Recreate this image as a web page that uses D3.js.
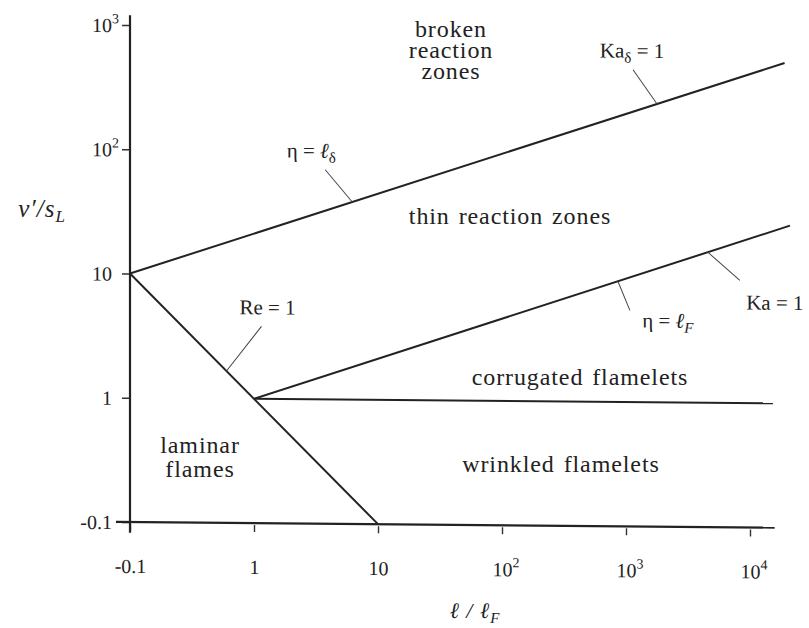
<!DOCTYPE html>
<html>
<head>
<meta charset="utf-8">
<script src="https://cdn.jsdelivr.net/npm/d3@7"></script>
<style>
  body { margin: 0; background: #fff; }
  svg { display: block; }
</style>
</head>
<body>
<svg id="chart" width="809" height="628"></svg>
<script>
// tick values and what is printed at them: [base, exponent]
const xTicks = [0.1, 1, 10, 100, 1000, 10000];
const xTickLabels = [["-0.1", ""], ["1", ""], ["10", ""], ["10", "2"], ["10", "3"], ["10", "4"]];
const yTicks = [0.1, 1, 10, 100, 1000];
const yTickLabels = [["-0.1", ""], ["1", ""], ["10", ""], ["10", "2"], ["10", "3"]];

// regime boundaries as [l/lF, v'/sL] end points
const kaDeltaLine = [[0.1, 10], [19000, 550]];
const kaLine = [[1, 1], [21000, 27]];
const reLine = [[0.1, 10], [10, 0.1]];
const flameletLine = [[1, 1], [15300, 1]];

// how far the two axis lines run
const xAxisExtent = [0.077, 15800];
const yAxisExtent = [0.082, 1200];

// boundary names and the l/lF where their pointer meets the line
const boundaryNames = ["etaDelta", "kaDelta", "re", "etaF", "ka"];
const boundaryLines = [kaDeltaLine, kaDeltaLine, reLine, kaLine, kaLine];
const boundaryAt = [6.2, 1780, 0.6, 860, 4570];

// regime names
const regionNames = [
  ["broken", "reaction", "zones"],
  ["thin reaction zones"],
  ["corrugated flamelets"],
  ["wrinkled flamelets"],
  ["laminar", "flames"]
];

// ---- layout ----
const width = 809, height = 628;
const ox = 130;          // pixel x of the l/lF = 0.1 axis
const skew = 0.5;        // the printed figure is slightly sheared
const serif = "'Liberation Serif', 'Times New Roman', 'DejaVu Serif', serif";

const x = d3.scaleLog().domain([0.1, 1e4]).range([0, 620]);
const y = d3.scaleLog().domain([0.1, 1e3]).range([522, 25]);

// pointer (dx, dy) and label (dx, baseline dy) offsets from the anchor
const pointerOffsets = {
  etaDelta: {lx: -27, ly: -32, tx: -41, ty: -44},
  kaDelta:  {lx: -24, ly: -34, tx: -25, ty: -46},
  re:       {lx: 35,  ly: -45, tx: 41,  ty: -57},
  etaF:     {lx: 12,  ly: 29,  tx: 50,  ty: 46},
  ka:       {lx: 32,  ly: 28,  tx: 67,  ty: 57}
};
const regionPos = [
  {x: 451, y: 37, dy: 21},
  {x: 510, y: 224},
  {x: 580, y: 385},
  {x: 561, y: 472},
  {x: 200, y: 453, dy: 24}
];

const svg = d3.select("#chart")
  .attr("font-family", serif)
  .style("font-family", serif);
svg.append("rect").attr("width", width).attr("height", height).attr("fill", "#fff");

const plot = svg.append("g")
  .attr("transform", `translate(${ox},0) skewY(${skew})`);

// ---- axes ----
const xAxisG = plot.append("g")
  .attr("transform", `translate(0,${y(0.1)})`)
  .call(d3.axisBottom(x).tickValues(xTicks).tickSizeInner(9).tickSizeOuter(0).tickFormat(() => ""))
  .attr("font-family", serif);
xAxisG.select(".domain").remove();
xAxisG.selectAll(".tick line").attr("stroke", "#333").attr("stroke-width", 1.4).attr("y1", 2);

xAxisG.selectAll(".tick").each(function (d, i) {
  const tick = d3.select(this);
  tick.select("text").remove();
  const base = tick.append("text")
    .attr("y", 51)
    .attr("text-anchor", "middle")
    .attr("font-size", 20)
    .attr("fill", "#222")
    .text(xTickLabels[i][0]);
  if (xTickLabels[i][1]) {
    const w = base.node().getComputedTextLength();
    tick.append("text")
      .attr("x", w / 2)
      .attr("y", 42)
      .attr("text-anchor", "start")
      .attr("font-size", 14)
      .attr("fill", "#222")
      .text(xTickLabels[i][1]);
  }
});

const yAxisG = plot.append("g")
  .call(d3.axisLeft(y).tickValues(yTicks).tickSizeInner(8).tickSizeOuter(0).tickFormat(() => ""))
  .attr("font-family", serif);
yAxisG.select(".domain").remove();
yAxisG.selectAll(".tick line").attr("stroke", "#333").attr("stroke-width", 1.4);

yAxisG.selectAll(".tick").each(function (d, i) {
  const tick = d3.select(this);
  tick.select("text").remove();
  tick.append("text")
    .attr("x", -18)
    .attr("dy", "0.34em")
    .attr("text-anchor", "end")
    .attr("font-size", 20)
    .attr("fill", "#222")
    .text(yTickLabels[i][0]);
  if (yTickLabels[i][1]) {
    tick.append("text")
      .attr("x", -18)
      .attr("y", -2)
      .attr("text-anchor", "start")
      .attr("font-size", 14)
      .attr("fill", "#222")
      .text(yTickLabels[i][1]);
  }
});

// axis lines
const line = d3.line().x(d => x(d[0])).y(d => y(d[1]));
plot.append("path")
  .datum([[xAxisExtent[0], 0.1], [xAxisExtent[1], 0.1]])
  .attr("d", line)
  .attr("fill", "none").attr("stroke", "#222").attr("stroke-width", 2.2);
plot.append("path")
  .datum([[0.1, yAxisExtent[0]], [0.1, yAxisExtent[1]]])
  .attr("d", line)
  .attr("fill", "none").attr("stroke", "#222").attr("stroke-width", 2.2);

// ---- regime boundaries ----
plot.selectAll(".boundary")
  .data([kaDeltaLine, kaLine, reLine, flameletLine])
  .join("path")
  .attr("class", "boundary")
  .attr("d", line)
  .attr("fill", "none")
  .attr("stroke", "#222")
  .attr("stroke-width", 2);

// point on a boundary at a given l/lF (straight in log-log)
function pointOn(seg, at) {
  const [a, b] = seg;
  const t = (Math.log(at) - Math.log(a[0])) / (Math.log(b[0]) - Math.log(a[0]));
  const lv = Math.log(a[1]) + t * (Math.log(b[1]) - Math.log(a[1]));
  return [x(at), y(Math.exp(lv))];
}

// ---- boundary names with pointers ----
function writeLabel(t, key) {
  const sub = (s, italic) => t.append("tspan").attr("font-size", 15).attr("dy", 5)
    .attr("font-style", italic ? "italic" : null).text(s);
  const back = () => t.append("tspan").attr("dy", -5);
  if (key === "etaDelta") {
    t.append("tspan").text("η = ");
    t.append("tspan").attr("font-style", "italic").text("ℓ");
    sub("δ");
  } else if (key === "kaDelta") {
    t.append("tspan").text("Ka");
    sub("δ");
    back().text(" = 1");
  } else if (key === "re") {
    t.append("tspan").text("Re = 1");
  } else if (key === "etaF") {
    t.append("tspan").text("η = ");
    t.append("tspan").attr("font-style", "italic").text("ℓ");
    sub("F", true);
  } else {
    t.append("tspan").text("Ka = 1");
  }
}

boundaryNames.forEach((key, i) => {
  const [px, py] = pointOn(boundaryLines[i], boundaryAt[i]);
  const o = pointerOffsets[key];
  plot.append("line")
    .attr("x1", px).attr("y1", py)
    .attr("x2", px + o.lx).attr("y2", py + o.ly)
    .attr("stroke", "#444").attr("stroke-width", 1);
  const t = plot.append("text")
    .attr("x", px + o.tx).attr("y", py + o.ty)
    .attr("text-anchor", "middle")
    .attr("font-size", 21)
    .attr("fill", "#222");
  writeLabel(t, key);
});

// ---- regime names ----
regionNames.forEach((lines, i) => {
  const p = regionPos[i];
  const t = svg.append("text")
    .attr("text-anchor", "middle")
    .attr("font-size", 24)
    .attr("letter-spacing", 0.9)
    .attr("word-spacing", 2)
    .attr("fill", "#222");
  lines.forEach((s, j) => {
    t.append("tspan").attr("x", p.x).attr("y", p.y + j * (p.dy || 0)).text(s);
  });
});

// ---- axis titles ----
const yTitle = svg.append("text")
  .attr("x", 42).attr("y", 217)
  .attr("text-anchor", "middle")
  .attr("font-size", 25)
  .attr("letter-spacing", 1)
  .attr("fill", "#222");
yTitle.append("tspan").attr("font-style", "italic").text("v′/s");
yTitle.append("tspan").attr("font-style", "italic").attr("font-size", 17).attr("dy", 5).text("L");

const xTitle = svg.append("text")
  .attr("x", 475).attr("y", 618)
  .attr("text-anchor", "middle")
  .attr("font-size", 22)
  .attr("letter-spacing", 1)
  .attr("fill", "#222");
xTitle.append("tspan").attr("font-style", "italic").text("ℓ / ℓ");
xTitle.append("tspan").attr("font-style", "italic").attr("font-size", 15).attr("dy", 5).text("F");
</script>
</body>
</html>
